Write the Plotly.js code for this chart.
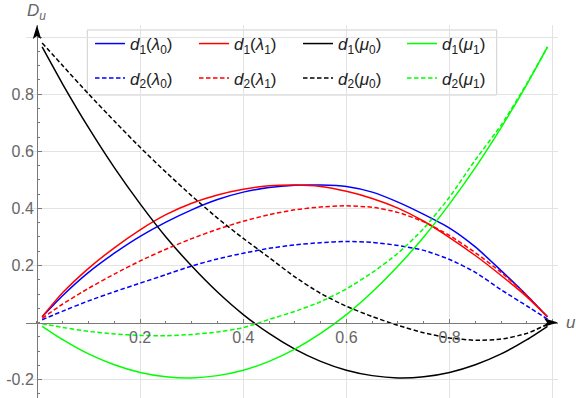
<!DOCTYPE html>
<html>
<head>
<meta charset="utf-8">
<script src="https://cdn.plot.ly/plotly-3.0.1.min.js"></script>
<style>
  html, body { margin: 0; padding: 0; background: #fff; }
  #chart { width: 576px; height: 398px; }
</style>
</head>
<body>
<div id="chart"></div>
<script>
// sample points along u (curves run 0.01 .. 0.99)
const uVals = [0.01, 0.05, 0.1, 0.15, 0.2, 0.25, 0.3, 0.35, 0.4, 0.45, 0.5,
               0.55, 0.6, 0.65, 0.7, 0.75, 0.8, 0.85, 0.9, 0.95, 0.99];

const d1Lambda0 = [0.020, 0.095, 0.176, 0.243, 0.302, 0.352, 0.395, 0.431, 0.457, 0.473, 0.481,
                   0.482, 0.477, 0.457, 0.422, 0.379, 0.331, 0.265, 0.182, 0.095, 0.020];
const d1Lambda1 = [0.020, 0.105, 0.190, 0.262, 0.325, 0.378, 0.418, 0.447, 0.467, 0.479, 0.482,
                   0.477, 0.460, 0.435, 0.401, 0.355, 0.298, 0.235, 0.165, 0.090, 0.020];
const d1Mu0     = [0.966, 0.835, 0.683, 0.543, 0.416, 0.300, 0.198, 0.107, 0.028, -0.038, -0.093,
                   -0.136, -0.167, -0.186, -0.194, -0.190, -0.175, -0.148, -0.110, -0.060, -0.013];
const d1Mu1     = [-0.013, -0.060, -0.110, -0.148, -0.175, -0.190, -0.194, -0.186, -0.167, -0.136, -0.093,
                   -0.038, 0.028, 0.107, 0.198, 0.300, 0.416, 0.543, 0.683, 0.835, 0.966];

const d2Lambda0 = [0.010, 0.040, 0.076, 0.108, 0.138, 0.168, 0.198, 0.223, 0.243, 0.260, 0.272,
                   0.280, 0.284, 0.281, 0.270, 0.253, 0.221, 0.176, 0.115, 0.058, 0.012];
const d2Lambda1 = [0.015, 0.065, 0.120, 0.170, 0.216, 0.257, 0.294, 0.327, 0.355, 0.378, 0.395,
                   0.405, 0.409, 0.404, 0.386, 0.353, 0.305, 0.245, 0.176, 0.095, 0.019];
const d2Mu0     = [0.980, 0.900, 0.801, 0.706, 0.614, 0.527, 0.444, 0.366, 0.295, 0.228, 0.160,
                   0.102, 0.057, 0.021, -0.010, -0.036, -0.054, -0.062, -0.058, -0.038, -0.006];
const d2Mu1     = [-0.004, -0.017, -0.031, -0.040, -0.045, -0.046, -0.042, -0.033, -0.018, 0.011, 0.039,
                   0.073, 0.118, 0.175, 0.243, 0.330, 0.440, 0.570, 0.692, 0.838, 0.966];

const xTickVals = [0.2, 0.4, 0.6, 0.8, 1.0];
const xTickText = ['0.2', '0.4', '0.6', '0.8', ''];
const yTickVals = [-0.2, 0.2, 0.4, 0.6, 0.8, 1.0];
const yTickText = ['-0.2', '0.2', '0.4', '0.6', '0.8', ''];

const FONT = 'Liberation Sans, Arial, sans-serif';
const AXIS_GRAY = '#7a7a7a';
const LABEL_GRAY = '#666666';

// plot window (data units)
const xRange = [-0.0213, 1.0103];
const yRange = [-0.2644, 1.0427];
const margin = { l: 26, r: 18, t: 25, b: 0 };
const plotW = 576 - margin.l - margin.r;
const plotH = 398 - margin.t - margin.b;
const pxX = (xRange[1] - xRange[0]) / plotW;   // data units per pixel
const pxY = (yRange[1] - yRange[0]) / plotH;

function makeTrace(y, color, name, dashed) {
    return {
        x: uVals,
        y: y,
        type: 'scatter',
        mode: 'lines',
        name: name,
        legend: dashed ? 'legend2' : 'legend',
        line: { color: color, width: 1.5, dash: dashed ? '4.5px,2.5px' : 'solid', shape: 'spline', smoothing: 0.6 },
        hoverinfo: 'skip'
    };
}

const lbl = (k, g, s) => '<i>d</i><sub>' + k + '</sub>(<i>' + g + '</i><sub>' + s + '</sub>)';

const traces = [
    makeTrace(d1Lambda0, '#0000ff', lbl(1, 'λ', 0), false),
    makeTrace(d1Lambda1, '#ff0000', lbl(1, 'λ', 1), false),
    makeTrace(d1Mu0,     '#000000', lbl(1, 'μ', 0), false),
    makeTrace(d1Mu1,     '#00ff00', lbl(1, 'μ', 1), false),
    makeTrace(d2Lambda0, '#0000ff', lbl(2, 'λ', 0), true),
    makeTrace(d2Lambda1, '#ff0000', lbl(2, 'λ', 1), true),
    makeTrace(d2Mu0,     '#000000', lbl(2, 'μ', 0), true),
    makeTrace(d2Mu1,     '#00ff00', lbl(2, 'μ', 1), true)
];

// arrow heads at the ends of the axes
function arrowPath(tipX, tipY, dir) {
    const len = 14, half = 4.2, notch = 3;
    if (dir === 'up') {
        const by = tipY - len * pxY, ny = tipY - (len - notch) * pxY, hw = half * pxX;
        return `M ${tipX},${tipY} L ${tipX + hw},${by} L ${tipX},${ny} L ${tipX - hw},${by} Z`;
    }
    const bx = tipX - len * pxX, nx = tipX - (len - notch) * pxX, hh = half * pxY;
    return `M ${tipX},${tipY} L ${bx},${tipY + hh} L ${nx},${tipY} L ${bx},${tipY - hh} Z`;
}

const paperX = px => (px - margin.l) / plotW;
const paperY = py => (398 - margin.b - py) / plotH;

const legendBase = {
    orientation: 'h',
    xanchor: 'left',
    yanchor: 'middle',
    x: paperX(90),
    bgcolor: 'rgba(0,0,0,0)',
    borderwidth: 0,
    entrywidth: 59,
    entrywidthmode: 'pixels',
    font: { family: FONT, size: 17, color: '#222' }
};

const axisCommon = {
    anchor: 'free',
    showline: true,
    linecolor: AXIS_GRAY,
    linewidth: 1.5,
    tickmode: 'array',
    ticks: 'inside',
    ticklen: 4,
    tickwidth: 1,
    tickcolor: AXIS_GRAY,
    minor: { tickmode: 'linear', tick0: 0, dtick: 0.05, ticks: 'inside', ticklen: 2, tickcolor: AXIS_GRAY, showgrid: false },
    showgrid: true,
    gridcolor: '#e3e3e3',
    gridwidth: 1.2,
    zeroline: false,
    tickfont: { family: FONT, size: 16, color: LABEL_GRAY },
    fixedrange: true
};

const layout = {
    width: 576,
    height: 398,
    margin: margin,
    paper_bgcolor: '#fff',
    plot_bgcolor: '#fff',
    showlegend: true,
    xaxis: Object.assign({}, axisCommon, {
        range: xRange,
        position: (0 - yRange[0]) / (yRange[1] - yRange[0]),
        tickvals: xTickVals,
        ticktext: xTickText
    }),
    yaxis: Object.assign({}, axisCommon, {
        range: yRange,
        position: (0 - xRange[0]) / (xRange[1] - xRange[0]),
        tickvals: yTickVals,
        ticktext: yTickText
    }),
    legend: Object.assign({}, legendBase, { y: paperY(44) }),
    legend2: Object.assign({}, legendBase, { y: paperY(78.5) }),
    shapes: [
        {
            type: 'rect', xref: 'paper', yref: 'paper', layer: 'between',
            x0: paperX(87.3), x1: paperX(496.7), y0: paperY(95), y1: paperY(30),
            line: { color: '#cfcfcf', width: 1 }, fillcolor: 'rgba(255,255,255,0)'
        },
        { type: 'path', xref: 'x', yref: 'y', layer: 'above', path: arrowPath(0, yRange[1], 'up'),
          fillcolor: '#000', line: { width: 0 } },
        { type: 'path', xref: 'x', yref: 'y', layer: 'above', path: arrowPath(xRange[1], 0, 'right'),
          fillcolor: '#000', line: { width: 0 } }
    ],
    annotations: [
        { xref: 'paper', x: 1, xanchor: 'left', xshift: 6, yref: 'y', y: 0, yanchor: 'middle',
          text: '<i>u</i>', showarrow: false, font: { family: FONT, size: 17, color: LABEL_GRAY } },
        { xref: 'x', x: 0, xanchor: 'center', yref: 'paper', y: 1, yanchor: 'bottom', yshift: 0,
          text: '<i>D</i><sub><i>u</i></sub>', showarrow: false, font: { family: FONT, size: 17, color: LABEL_GRAY } }
    ]
};

Plotly.newPlot('chart', traces, layout, { staticPlot: true, displayModeBar: false });
</script>
</body>
</html>
